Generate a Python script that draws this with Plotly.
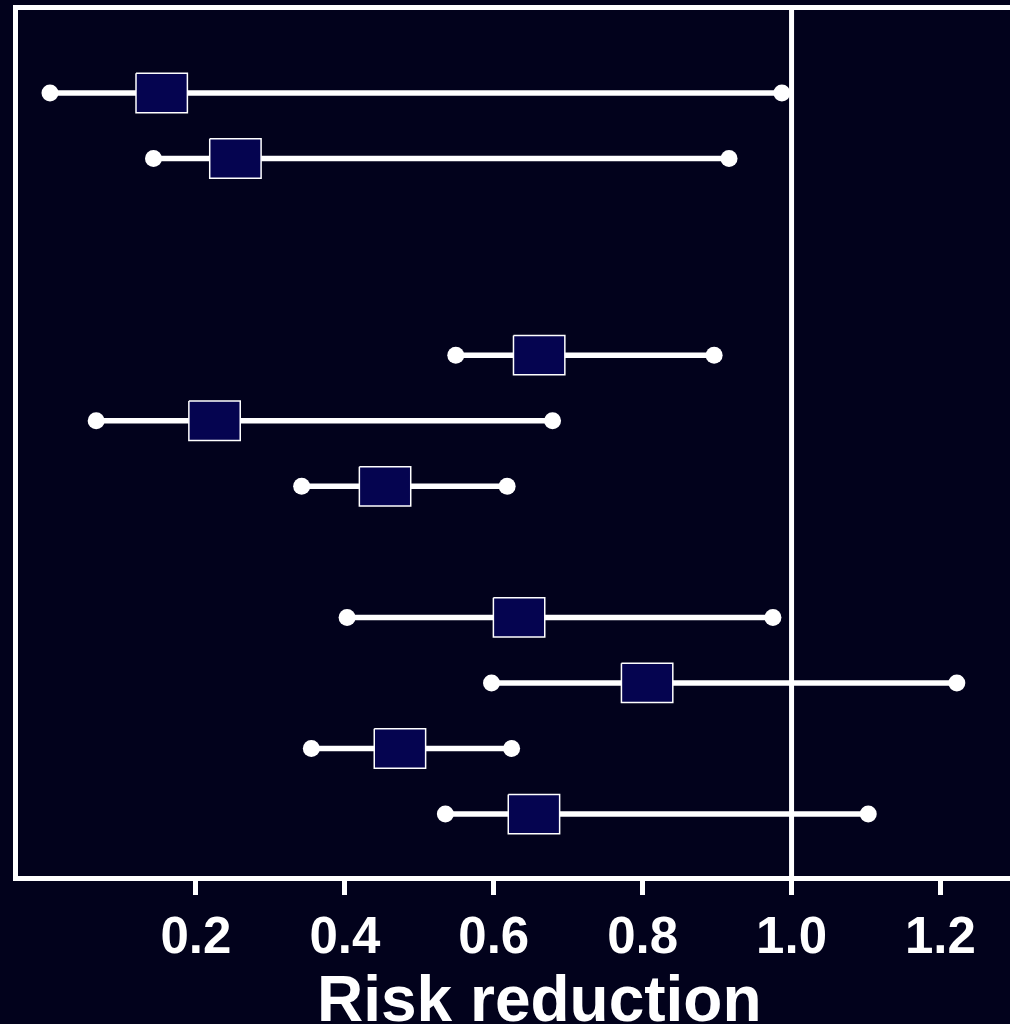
import plotly.graph_objects as go

# Data
rows = [0, 1, 4, 5, 6, 8, 9, 10, 11]          # row slots (top to bottom), gaps are blank rows
est = [0.154, 0.253, 0.661, 0.225, 0.454, 0.634, 0.806, 0.474, 0.654]
low = [0.004, 0.143, 0.549, 0.066, 0.342, 0.403, 0.597, 0.355, 0.535]
high = [0.987, 0.916, 0.896, 0.679, 0.618, 0.975, 1.222, 0.624, 1.103]
tick_vals = [0.2, 0.4, 0.6, 0.8, 1.0, 1.2]
tick_text = ["0.2", "0.4", "0.6", "0.8", "1.0", "1.2"]
ref_value = 1.0
x_label = "Risk reduction"

BG = "#02021c"
BOX = "#050450"
WHITE = "white"
BOX_HALF_W = 0.0345   # half width of estimate box (data units)
BOX_HALF_H = 0.30     # half height of estimate box (row units)
FONT = "Liberation Sans, Arial, sans-serif"

fig = go.Figure()

# whiskers
wx, wy = [], []
for r, lo, hi in zip(rows, low, high):
    wx += [lo, hi, None]
    wy += [r, r, None]
fig.add_trace(go.Scatter(x=wx, y=wy, mode="lines",
                         line=dict(color=WHITE, width=5.5),
                         hoverinfo="skip", showlegend=False))
# end points
fig.add_trace(go.Scatter(x=low + high, y=rows + rows, mode="markers",
                         marker=dict(color=WHITE, size=17, line=dict(width=0)),
                         showlegend=False))
# estimate boxes
bx, by = [], []
for r, e in zip(rows, est):
    bx += [e - BOX_HALF_W, e + BOX_HALF_W, e + BOX_HALF_W, e - BOX_HALF_W, e - BOX_HALF_W, None]
    by += [r - BOX_HALF_H, r - BOX_HALF_H, r + BOX_HALF_H, r + BOX_HALF_H, r - BOX_HALF_H, None]
fig.add_trace(go.Scatter(x=bx, y=by, mode="lines", fill="toself", fillcolor=BOX,
                         line=dict(color=WHITE, width=1.5),
                         hoverinfo="skip", showlegend=False))

# reference line
fig.add_shape(type="line", xref="x", yref="paper", x0=ref_value, x1=ref_value,
              y0=0, y1=1, line=dict(color=WHITE, width=5), layer="below")

fig.add_annotation(text=x_label, xref="paper", yref="paper", x=0.526, y=-0.142,
                   xanchor="center", yanchor="middle", showarrow=False,
                   font=dict(family=FONT, size=64, color=WHITE, weight="bold"))

fig.update_layout(
    width=1010, height=1024,
    margin=dict(l=18, r=0, t=10, b=148),
    paper_bgcolor=BG, plot_bgcolor=BG,
    showlegend=False,
    xaxis=dict(range=[-0.039, 1.2934], tickvals=tick_vals, ticktext=tick_text,
               showline=True, linewidth=5, linecolor=WHITE, mirror=True,
               ticks="outside", ticklen=14, tickwidth=5, tickcolor=WHITE,
               ticklabelstandoff=-3,
               showgrid=False, zeroline=False,
               tickfont=dict(family=FONT, size=51, color=WHITE, weight="bold")),
    yaxis=dict(range=[11.945, -1.266], showline=True, linewidth=5, linecolor=WHITE,
               mirror=False, showticklabels=False, ticks="", showgrid=False,
               zeroline=False),
)

fig.write_html(
    "out.html",
    config={"displayModeBar": False},
    post_script="document.body.style.margin='0';document.body.style.overflow='hidden';"
                "document.body.style.background='%s';" % BG,
)
